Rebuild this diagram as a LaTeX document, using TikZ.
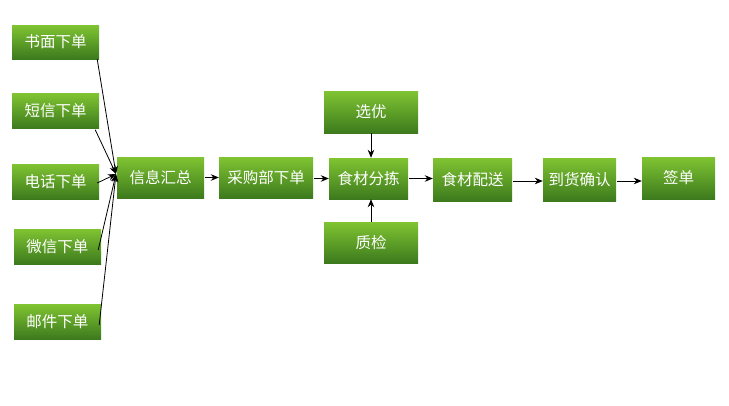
\documentclass[tikz,border=0pt]{standalone}
\usepackage{fontspec}
\newfontfamily\cjk{Noto Sans CJK SC}
\usetikzlibrary{arrows.meta}
\definecolor{gtop}{HTML}{80C432}
\definecolor{gbot}{HTML}{3C7A1D}
\begin{document}
\begin{tikzpicture}[x=1pt,y=-1pt,
  box/.style={top color=gtop,bottom color=gbot,draw=none,text=white,
    font=\cjk\fontsize{15.5}{17}\selectfont,inner sep=0pt},
  arr/.style={-{Stealth[length=8pt,width=6.5pt]},line width=0.8pt,black}]
\useasboundingbox (0,0) rectangle (729,405);
\node[box,minimum width=87pt,minimum height=34pt] (sm) at (55.5,42) {书面下单};
\node[box,minimum width=87pt,minimum height=35pt] (dx) at (55.5,111) {短信下单};
\node[box,minimum width=87pt,minimum height=35pt] (dh) at (55.5,181.5) {电话下单};
\node[box,minimum width=87pt,minimum height=35pt] (wx) at (57.5,246.5) {微信下单};
\node[box,minimum width=87pt,minimum height=35pt] (yj) at (57.5,321.5) {邮件下单};
\node[box,minimum width=87pt,minimum height=41pt] (hz) at (160.5,177.5) {信息汇总};
\node[box,minimum width=94pt,minimum height=41pt] (cg) at (266,177.5) {采购部下单};
\node[box,minimum width=94pt,minimum height=42pt] (xy) at (371,112) {选优};
\node[box,minimum width=79pt,minimum height=41pt] (fj) at (368.5,178.5) {食材分拣};
\node[box,minimum width=94pt,minimum height=41pt] (zj) at (371,242.5) {质检};
\node[box,minimum width=79pt,minimum height=43pt] (ps) at (472.5,179.5) {食材配送};
\node[box,minimum width=73pt,minimum height=43pt] (dq) at (579.5,179.5) {到货确认};
\node[box,minimum width=73pt,minimum height=42pt] (qd) at (678.5,178) {签单};
\coordinate (m) at (116,174);
\draw[arr] ([xshift=-2pt]sm.south east) -- (m);
\draw[arr] ([xshift=-4pt,yshift=-1pt]dx.south east) -- (m);
\draw[arr] ([xshift=-2pt,yshift=-1.5pt]dh.east) -- (m);
\draw[arr] ([xshift=-3pt,yshift=-3.5pt]wx.east) -- (m);
\draw[arr] ([xshift=-2pt,yshift=-3.5pt]yj.east) -- (m);
\draw[arr] ([xshift=1pt]hz.east) -- (hz.east -| cg.west);
\draw[arr] ([xshift=1pt,yshift=-1pt]cg.east) -- ([yshift=-1pt]cg.east -| fj.west);
\draw[arr] (xy.south) -- (xy.south |- fj.north);
\draw[arr] (zj.north) -- (zj.north |- fj.south);
\draw[arr] ([xshift=1pt]fj.east) -- (fj.east -| ps.west);
\draw[arr] ([xshift=1pt,yshift=-1.5pt]ps.east) -- ([yshift=-1.5pt]ps.east -| dq.west);
\draw[arr] ([xshift=1pt,yshift=-1.5pt]dq.east) -- ([yshift=-1.5pt]dq.east -| qd.west);
\end{tikzpicture}
\end{document}
